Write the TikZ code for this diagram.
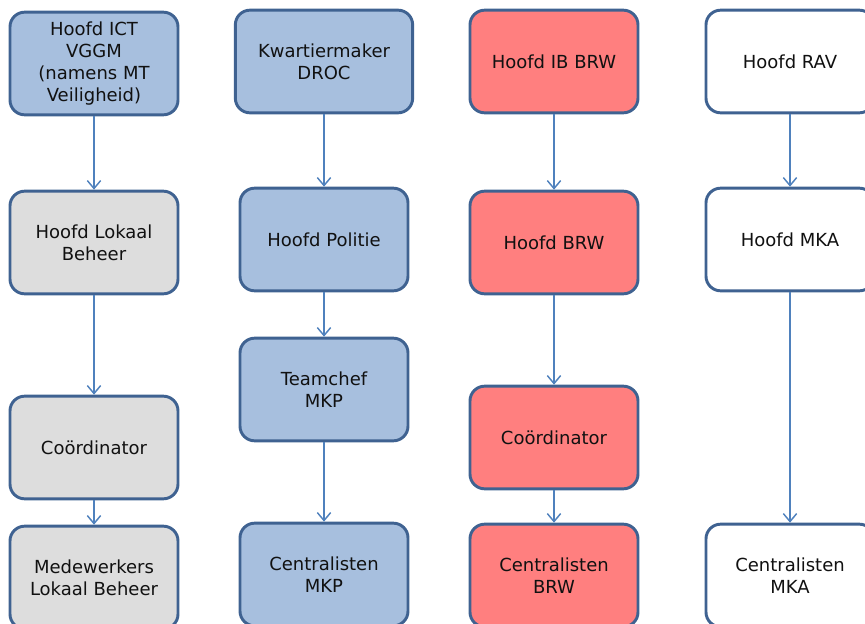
\documentclass[tikz,border=0pt]{standalone}
\usepackage{fontspec}
\setmainfont{DejaVu Sans}
\usetikzlibrary{arrows.meta}
\definecolor{boxline}{HTML}{3F6291}
\definecolor{bluefill}{HTML}{A7BFDE}
\definecolor{greyfill}{HTML}{DDDDDD}
\definecolor{redfill}{HTML}{FF7F7F}
\definecolor{arrowcol}{HTML}{4F81BD}
\definecolor{txt}{HTML}{111111}
\tikzset{
  orgbox/.style={draw=boxline, line width=2.2pt, rounded corners=11pt,
    minimum width=126pt, minimum height=77pt, align=center, text=txt,
    font=\fontsize{13.5pt}{16.5pt}\selectfont, inner sep=2pt},
  bluebox/.style={orgbox, fill=bluefill},
  greybox/.style={orgbox, fill=greyfill},
  redbox/.style={orgbox, fill=redfill},
  whitebox/.style={orgbox, fill=white},
  link/.style={draw=arrowcol, line width=1.1pt, -{Straight Barb[length=6pt,width=10pt,line width=1.1pt]}},
}
\begin{document}
\begin{tikzpicture}[x=0.75pt,y=-0.75pt]
\useasboundingbox (0,0) rectangle (865,624);
\clip (0,0) rectangle (865,624);
% column 1
\node[bluebox] (a1) at (94,63.5) {Hoofd ICT\\VGGM\\(namens MT\\Veiligheid)};
\node[greybox] (a2) at (94,242.5) {Hoofd Lokaal\\Beheer};
\node[greybox] (a3) at (94,447.5) {Coördinator};
\node[greybox] (a4) at (94,577.5) {Medewerkers\\Lokaal Beheer};
% column 2
\node[bluebox, minimum width=133pt] (b1) at (324,61.5) {Kwartiermaker\\DROC};
\node[bluebox] (b2) at (324,239.5) {Hoofd Politie};
\node[bluebox] (b3) at (324,389.5) {Teamchef\\MKP};
\node[bluebox] (b4) at (324,574.5) {Centralisten\\MKP};
% column 3
\node[redbox] (c1) at (554,61.5) {Hoofd IB BRW};
\node[redbox] (c2) at (554,242.5) {Hoofd BRW};
\node[redbox] (c3) at (554,437.5) {Coördinator};
\node[redbox] (c4) at (554,575.5) {Centralisten\\BRW};
% column 4
\node[whitebox] (d1) at (790,61.5) {Hoofd RAV};
\node[whitebox] (d2) at (790,239.5) {Hoofd MKA};
\node[whitebox] (d4) at (790,575.5) {Centralisten\\MKA};
% connectors
\draw[link] (a1) -- (a2);
\draw[link] (a2) -- (a3);
\draw[link] (a3) -- (a4);
\draw[link] (b1) -- (b2);
\draw[link] (b2) -- (b3);
\draw[link] (b3) -- (b4);
\draw[link] (c1) -- (c2);
\draw[link] (c2) -- (c3);
\draw[link] (c3) -- (c4);
\draw[link] (d1) -- (d2);
\draw[link] (d2) -- (d4);
\end{tikzpicture}
\end{document}
